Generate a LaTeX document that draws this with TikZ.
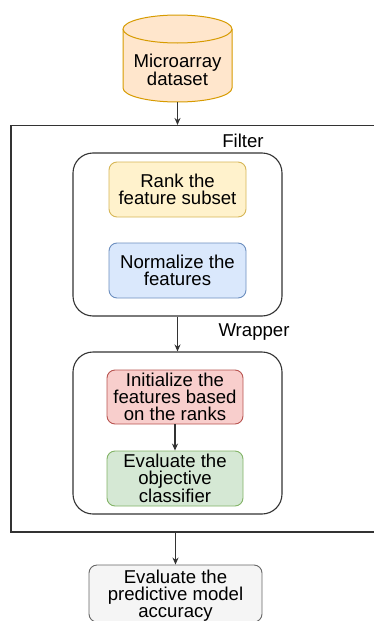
\documentclass[tikz,border=0pt]{standalone}
\usepackage{fontspec}
\setmainfont{Liberation Sans}
\usetikzlibrary{arrows.meta,calc}
\definecolor{cylfill}{HTML}{FFE6CC}\definecolor{cyldraw}{HTML}{D79B00}
\definecolor{yfill}{HTML}{FFF2CC}\definecolor{ydraw}{HTML}{D6B656}
\definecolor{bfill}{HTML}{DAE8FC}\definecolor{bdraw}{HTML}{6C8EBF}
\definecolor{rfill}{HTML}{F8CECC}\definecolor{rdraw}{HTML}{B85450}
\definecolor{gfill}{HTML}{D5E8D4}\definecolor{gdraw}{HTML}{82B366}
\definecolor{kfill}{HTML}{F5F5F5}\definecolor{kdraw}{HTML}{666666}
\definecolor{line}{HTML}{333333}
\begin{document}
\begin{tikzpicture}[x=1pt,y=-1pt,
  every node/.style={font=\fontsize{18.6}{17}\selectfont, align=center, inner sep=0pt},
  stepbox/.style={draw, rounded corners=8pt, line width=0.9pt, minimum width=137, minimum height=55},
  container/.style={draw=line, rounded corners=20pt, line width=1.1pt, minimum width=209, minimum height=163},
  conn/.style={draw=line, line width=1.1pt, -{Stealth[length=7pt,width=6pt]}}]
\useasboundingbox (0,0) rectangle (374,621);
\clip (0,0) rectangle (374,621);
% cylinder
\path[fill=cylfill, draw=cyldraw, line width=1pt]
  (123,29) -- (123,88) arc[start angle=180, end angle=0, x radius=54.5, y radius=14] -- (232,29);
\draw[cyldraw, line width=1pt, fill=cylfill] (177.5,29) ellipse[x radius=54.5, y radius=14];
\node (cyl) at (177.5,70) {Microarray\\dataset};
\coordinate (cylbot) at (177.5,102);
% outer
\node[draw=line, line width=1.1pt, minimum width=400, minimum height=406.5] (outer) at (211,328.75) {};
\node (filterlbl) at (243,141) {Filter};
\node (wrapperlbl) at (254,332) {Wrapper};
% containers
\node[container] (filter) at (177.5,234.5) {};
\node[container, minimum height=162] (wrapper) at (177.5,433) {};
% steps
\node[stepbox, fill=yfill, draw=ydraw] (rank) at (177.5,189.5) {Rank the\\feature subset};
\node[stepbox, fill=bfill, draw=bdraw] (norm) at (177.5,270.5) {Normalize the\\features};
\node[stepbox, fill=rfill, draw=rdraw, minimum width=136, minimum height=54] (init) at (175,397) {Initialize the\\features based\\on the ranks};
\node[stepbox, fill=gfill, draw=gdraw, minimum width=136] (evalobj) at (175,478.5) {Evaluate the\\objective\\classifier};
\node[stepbox, fill=kfill, draw=kdraw, minimum width=173, minimum height=57] (final) at (175.5,593.5) {};
\node (finaltxt) at (175.5,595.5) {Evaluate the\\predictive model\\accuracy};
% connectors
\draw[conn] (cylbot) -- (cylbot |- outer.north);
\draw[conn] (filter.south) -- (wrapper.north);
\draw[conn] (init.south) -- (evalobj.north);
\draw[conn] (final.north |- outer.south) -- (final.north);
\end{tikzpicture}
\end{document}
